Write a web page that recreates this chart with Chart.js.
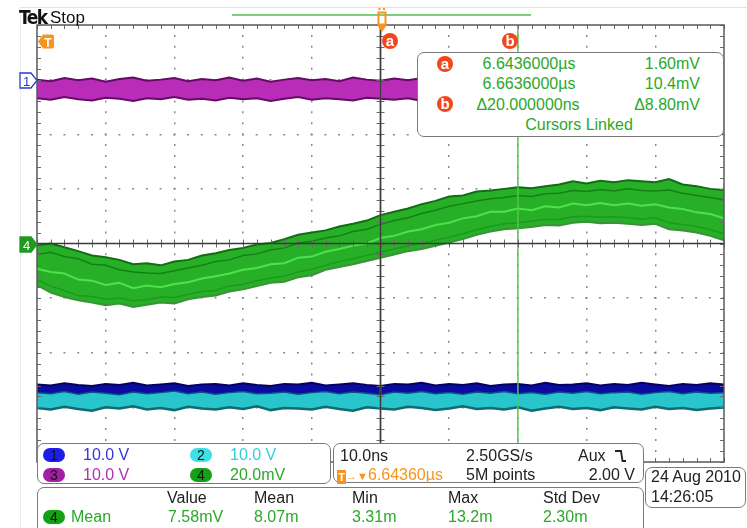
<!DOCTYPE html>
<html>
<head>
<meta charset="utf-8">
<script src="https://cdn.jsdelivr.net/npm/chart.js@4.4.0/dist/chart.umd.min.js"></script>
<style>
  html, body { margin: 0; padding: 0; background: #fff; }
  #scope { position: relative; width: 747px; height: 528px; overflow: hidden;
           font-family: 'Liberation Sans', Arial, sans-serif; font-size: 16px; }
  #scope canvas { position: absolute; left: 0; top: 0; }
  .t    { position: absolute; white-space: nowrap; line-height: 16px; }
  .r    { text-align: right; }
  .c    { text-align: center; }
  .g    { color: #2aa82a; }
  .k    { color: #222; }
  .box  { position: absolute; box-sizing: border-box; border: 1.5px solid #7a7a7a;
          border-radius: 7px; background: #fff; }
  .pill { position: absolute; width: 22px; height: 14px; border-radius: 7px; font-size: 14px;
          line-height: 14px; text-align: center; color: #111; }
  .cur  { position: absolute; width: 16px; height: 16px; border-radius: 50%; background: #f2461c;
          color: #fff; font-size: 15px; font-weight: bold; line-height: 15px; text-align: center; }
  .tb   { display: inline-block; width: 9px; height: 14px; background: #f7941d; color: #fff;
          font-size: 11px; line-height: 14px; text-align: center; font-weight: bold; vertical-align: -1px; }
  .line { position: absolute; }
</style>
</head>
<body>
<div id="scope">
  <canvas id="scr" width="747" height="528"></canvas>

  <!-- frame / header -->
  <div class="line" style="left:20px;top:7px;width:727px;height:1px;background:#e2e2e2"></div>
  <div class="line" style="left:20px;top:7px;width:1px;height:521px;background:#ececec"></div>
  <div class="t" style="left:19px;top:7px;font:bold 19px/20px 'Liberation Sans Narrow','DejaVu Sans Condensed',sans-serif;letter-spacing:-1.5px;color:#111">Tek</div>
  <div class="t" style="left:50px;top:9px;font-size:17px;line-height:17px;color:#111">Stop</div>
  <div class="line" style="left:232px;top:14px;width:299px;height:2px;background:#7ccf7c"></div>

  <!-- trigger position marker -->
  <svg style="position:absolute;left:375px;top:6px" width="14" height="28">
    <circle cx="4.5" cy="3" r="1.2" fill="#f7941d"/><circle cx="9" cy="3" r="1.2" fill="#f7941d"/>
    <rect x="3.5" y="6.5" width="7" height="12" fill="none" stroke="#f7941d" stroke-width="2"/>
    <path d="M2 19 H12 L7 26 Z" fill="#f7941d"/>
  </svg>

  <!-- cursor tags -->
  <div class="cur" style="left:382px;top:33px">a</div>
  <div class="cur" style="left:502px;top:33px">b</div>

  <!-- trigger level -->
  <svg style="position:absolute;left:37px;top:34px" width="18" height="16">
    <path d="M1 7.5 L6 0.5 H15 Q17 0.5 17 2.5 V12.5 Q17 14.5 15 14.5 H6 Z" fill="#f7941d"/>
    <text x="11" y="12.5" text-anchor="middle" font-family="Liberation Sans" font-weight="bold" font-size="12" fill="#fff">T</text>
  </svg>

  <!-- channel ground markers -->
  <svg style="position:absolute;left:19px;top:72px" width="20" height="18">
    <path d="M1 1 H12 L18 8.5 L12 16 H1 Z" fill="#fff" stroke="#2a3ad0" stroke-width="1.3"/>
    <text x="7.5" y="13.5" text-anchor="middle" font-family="Liberation Sans" font-size="13" fill="#2a3ad0">1</text>
  </svg>
  <svg style="position:absolute;left:19px;top:236px" width="20" height="18">
    <path d="M1 1 H12 L18 8.5 L12 16 H1 Z" fill="#1f9a1f" stroke="#1f9a1f" stroke-width="1.3"/>
    <text x="7.5" y="13.5" text-anchor="middle" font-family="Liberation Sans" font-size="13" fill="#fff">4</text>
  </svg>

  <!-- cursor readout -->
  <div class="box" style="left:417px;top:52px;width:307px;height:85px"></div>
  <div class="cur" style="left:437px;top:56px">a</div>
  <div class="cur" style="left:437px;top:96px">b</div>
  <div class="t g c" style="left:429px;top:56px;width:200px">6.6436000µs</div>
  <div class="t g r" style="left:600px;top:56px;width:100px">1.60mV</div>
  <div class="t g c" style="left:429px;top:76px;width:200px">6.6636000µs</div>
  <div class="t g r" style="left:600px;top:76px;width:100px">10.4mV</div>
  <div class="t g c" style="left:428px;top:97px;width:200px">Δ20.000000ns</div>
  <div class="t g r" style="left:600px;top:97px;width:100px">Δ8.80mV</div>
  <div class="t g c" style="left:479px;top:117px;width:200px">Cursors Linked</div>

  <!-- vertical scales -->
  <div class="box" style="left:37px;top:443px;width:294px;height:41px"></div>
  <div class="pill" style="left:43px;top:448px;background:#1d1de6">1</div>
  <div class="t" style="left:83px;top:447px;color:#3535e6">10.0 V</div>
  <div class="pill" style="left:43px;top:468px;background:#a21fa2">3</div>
  <div class="t" style="left:83px;top:467px;color:#b02fb0">10.0 V</div>
  <div class="pill" style="left:190px;top:448px;background:#3fe0e8">2</div>
  <div class="t" style="left:230px;top:447px;color:#2fcfe0">10.0 V</div>
  <div class="pill" style="left:190px;top:468px;background:#14a014">4</div>
  <div class="t g" style="left:230px;top:467px">20.0mV</div>

  <!-- horizontal / trigger -->
  <div class="box" style="left:333px;top:443px;width:311px;height:40px"></div>
  <div class="t k" style="left:340px;top:448px">10.0ns</div>
  <div class="t k" style="left:466px;top:448px">2.50GS/s</div>
  <div class="t k" style="left:578px;top:448px">Aux</div>
  <svg style="position:absolute;left:614px;top:449px" width="14" height="14">
    <path d="M1 2 H7 L8.5 12 H12" fill="none" stroke="#222" stroke-width="1.8"/>
  </svg>
  <div class="t" style="left:337px;top:467px;color:#f7941d"><span class="tb">T</span><span style="font-size:11px">→▼</span>6.64360µs</div>
  <div class="t k" style="left:466px;top:467px">5M points</div>
  <div class="t k r" style="left:535px;top:467px;width:100px">2.00 V</div>

  <!-- date -->
  <div class="box" style="left:645px;top:467px;width:101px;height:41px"></div>
  <div class="t k" style="left:651px;top:469px">24 Aug 2010</div>
  <div class="t k" style="left:651px;top:489px">14:26:05</div>

  <!-- measurements -->
  <div class="box" style="left:37px;top:487px;width:607px;height:50px"></div>
  <div class="t k" style="left:167px;top:490px">Value</div>
  <div class="t k" style="left:254px;top:490px">Mean</div>
  <div class="t k" style="left:352px;top:490px">Min</div>
  <div class="t k" style="left:448px;top:490px">Max</div>
  <div class="t k" style="left:543px;top:490px">Std Dev</div>
  <div class="pill" style="left:43px;top:510px;background:#14a014">4</div>
  <div class="t g" style="left:71px;top:509px">Mean</div>
  <div class="t g" style="left:168px;top:509px">7.58mV</div>
  <div class="t g" style="left:254px;top:509px">8.07m</div>
  <div class="t g" style="left:352px;top:509px">3.31m</div>
  <div class="t g" style="left:448px;top:509px">13.2m</div>
  <div class="t g" style="left:543px;top:509px">2.30m</div>
</div>

<script>
// time in ns relative to the trigger (10 ns/div), amplitudes in graticule divisions
const timeNs = [
  -50, -48, -46, -44, -42, -40, -38, -36, -34, -32,
  -30, -28, -26, -24, -22, -20, -18, -16, -14, -12,
  -10,  -8,  -6,  -4,  -2,   0,   2,   4,   6,   8,
   10,  12,  14,  16,  18,  20,  22,  24,  26,  28,
   30,  32,  34,  36,  38,  40,  42,  44,  46,  48,
   50
];

// magenta band
const magentaTop = [
  3.00, 2.97, 3.03, 2.99, 3.02, 2.96, 3.01, 3.04, 2.98, 3.00,
  3.03, 2.97, 3.01, 2.99, 3.04, 2.98, 3.02, 2.96, 3.00, 3.03,
  2.99, 3.01, 2.97, 3.04, 3.00, 2.98, 3.02, 2.99, 3.03, 2.97,
  3.01, 3.00, 3.04, 2.98, 3.02, 2.99, 3.03, 2.97, 3.00, 3.02,
  2.98, 3.04, 3.00, 2.97, 3.02, 2.99, 3.03, 3.00, 2.98, 3.02,
  2.99
];
const magentaBottom = [
  2.66, 2.63, 2.68, 2.64, 2.62, 2.67, 2.65, 2.61, 2.66, 2.64,
  2.68, 2.63, 2.65, 2.62, 2.67, 2.64, 2.66, 2.61, 2.65, 2.68,
  2.63, 2.66, 2.64, 2.62, 2.67, 2.65, 2.63, 2.66, 2.61, 2.65,
  2.68, 2.64, 2.66, 2.62, 2.65, 2.67, 2.63, 2.66, 2.64, 2.61,
  2.66, 2.64, 2.67, 2.63, 2.65, 2.62, 2.66, 2.64, 2.67, 2.63,
  2.65
];

// channel 4 (green) persistence envelope + a few visible sweeps
const ch4Upper = [
  -0.03,  0.00, -0.07, -0.14, -0.22, -0.25, -0.30, -0.38, -0.36, -0.40,
  -0.33, -0.30, -0.22, -0.18, -0.12, -0.08, -0.02,  0.01,  0.08,  0.16,
   0.20,  0.24,  0.31,  0.36,  0.42,  0.52,  0.58,  0.64,  0.72,  0.78,
   0.86,  0.88,  0.95,  0.97,  1.00,  1.03,  1.01,  1.05,  1.08,  1.14,
   1.10,  1.15,  1.12,  1.16,  1.14,  1.12,  1.18,  1.08,  1.05,  1.00,
   0.98
];
const ch4Lower = [
  -0.76, -0.90, -0.98, -1.04, -1.08, -1.13, -1.10, -1.16, -1.12, -1.08,
  -1.10, -1.02, -0.98, -0.95, -0.88, -0.84, -0.78, -0.72, -0.70, -0.62,
  -0.58, -0.48, -0.43, -0.38, -0.32, -0.26, -0.20, -0.14, -0.10, -0.04,
   0.02,  0.08,  0.16,  0.22,  0.26,  0.28,  0.30,  0.34,  0.33,  0.38,
   0.40,  0.37,  0.38,  0.36,  0.34,  0.36,  0.26,  0.24,  0.20,  0.14,
   0.06
];
const ch4SweepA = [
  -0.46, -0.52, -0.55, -0.66, -0.68, -0.76, -0.72, -0.82, -0.77, -0.80,
  -0.74, -0.71, -0.64, -0.60, -0.55, -0.48, -0.45, -0.38, -0.36, -0.26,
  -0.24, -0.15, -0.10, -0.04,  0.00,  0.10,  0.14,  0.22,  0.26,  0.34,
   0.38,  0.46,  0.50,  0.58,  0.58,  0.64,  0.61,  0.68,  0.66,  0.73,
   0.70,  0.74,  0.70,  0.73,  0.69,  0.72,  0.66,  0.63,  0.57,  0.54,
   0.46
];
const ch4SweepB = [
  -0.20, -0.16, -0.24, -0.28, -0.38, -0.40, -0.48, -0.52, -0.54, -0.55,
  -0.50, -0.45, -0.40, -0.33, -0.30, -0.22, -0.19, -0.12, -0.08,  0.01,
   0.04,  0.10,  0.14,  0.22,  0.26,  0.35,  0.42,  0.47,  0.55,  0.61,
   0.68,  0.73,  0.78,  0.82,  0.84,  0.88,  0.86,  0.91,  0.92,  0.97,
   0.95,  0.99,  0.96,  1.00,  0.97,  0.96,  0.98,  0.92,  0.88,  0.84,
   0.80
];
const ch4SweepC = [
  -0.66, -0.78, -0.86, -0.95, -0.97, -1.02, -1.00, -1.05, -1.03, -0.98,
  -0.99, -0.93, -0.88, -0.86, -0.78, -0.75, -0.68, -0.63, -0.60, -0.52,
  -0.47, -0.40, -0.33, -0.28, -0.22, -0.16, -0.10, -0.04,  0.00,  0.06,
   0.12,  0.18,  0.25,  0.31,  0.36,  0.38,  0.41,  0.44,  0.44,  0.49,
   0.50,  0.48,  0.49,  0.47,  0.45,  0.47,  0.38,  0.35,  0.31,  0.25,
   0.18
];

// blue over cyan bands at the bottom
const blueTop = [
  -2.58, -2.60, -2.56, -2.59, -2.61, -2.57, -2.59, -2.55, -2.60, -2.58,
  -2.56, -2.61, -2.58, -2.57, -2.60, -2.56, -2.59, -2.61, -2.57, -2.58,
  -2.55, -2.60, -2.58, -2.56, -2.59, -2.61, -2.57, -2.58, -2.55, -2.60,
  -2.57, -2.59, -2.56, -2.61, -2.58, -2.57, -2.60, -2.55, -2.59, -2.58,
  -2.56, -2.60, -2.57, -2.59, -2.55, -2.58, -2.61, -2.57, -2.59, -2.56,
  -2.58
];
const blueCyanSplit = [
  -2.73, -2.75, -2.71, -2.76, -2.72, -2.74, -2.77, -2.72, -2.75, -2.73,
  -2.70, -2.75, -2.72, -2.76, -2.73, -2.71, -2.75, -2.74, -2.72, -2.76,
  -2.73, -2.71, -2.75, -2.72, -2.74, -2.77, -2.72, -2.74, -2.71, -2.75,
  -2.73, -2.76, -2.72, -2.74, -2.71, -2.75, -2.73, -2.76, -2.72, -2.74,
  -2.71, -2.75, -2.73, -2.72, -2.76, -2.73, -2.71, -2.75, -2.72, -2.74,
  -2.73
];
const cyanBottom = [
  -3.01, -3.04, -2.99, -3.03, -3.06, -3.00, -3.02, -2.98, -3.04, -3.01,
  -3.05, -2.99, -3.02, -3.04, -3.00, -3.03, -2.98, -3.05, -3.01, -3.02,
  -3.04, -2.99, -3.03, -3.06, -3.00, -3.02, -3.04, -2.99, -3.01, -3.05,
  -3.02, -2.98, -3.03, -3.01, -3.04, -3.00, -3.06, -3.02, -2.99, -3.03,
  -3.01, -3.05, -3.00, -3.02, -3.04, -2.99, -3.03, -3.01, -3.05, -3.02,
  -3.00
];

const cursorA = 0;    // ns
const cursorB = 20;   // ns

const pts = ys => timeNs.map((t, i) => ({ x: t, y: ys[i] }));
const vline = t => [{ x: t, y: -4 }, { x: t, y: 4 }];

const trace = (data, color, width, order, fill, bg) => ({
  data, borderColor: color, borderWidth: width, order,
  fill: fill || false, backgroundColor: bg || 'transparent',
  pointRadius: 0, tension: 0,
});

/* graticule: centre cross, edge ticks, frame */
const graticule = {
  id: 'graticule',
  afterDatasetsDraw(chart) {
    const { ctx, chartArea: a, scales: { x, y } } = chart;
    const x0 = x.getPixelForValue(0), y0 = y.getPixelForValue(0);
    ctx.save();
    ctx.strokeStyle = '#6a6a6a'; ctx.lineWidth = 1;
    ctx.beginPath();
    for (let t = -50; t <= 50; t += 2) {
      const p = Math.round(x.getPixelForValue(t)) + 0.5;
      ctx.moveTo(p, y0 - 4); ctx.lineTo(p, y0 + 4);
      ctx.moveTo(p, a.top);  ctx.lineTo(p, a.top + 4);
      ctx.moveTo(p, a.bottom); ctx.lineTo(p, a.bottom - 4);
    }
    for (let k = -20; k <= 20; k++) {
      const p = Math.round(y.getPixelForValue(k / 5)) + 0.5;
      ctx.moveTo(x0 - 4, p); ctx.lineTo(x0 + 4, p);
      ctx.moveTo(a.left, p); ctx.lineTo(a.left + 4, p);
      ctx.moveTo(a.right, p); ctx.lineTo(a.right - 4, p);
    }
    ctx.stroke();
    ctx.strokeStyle = '#3a3a3a'; ctx.lineWidth = 1.5;
    ctx.beginPath();
    ctx.moveTo(a.left, y0); ctx.lineTo(a.right, y0);
    ctx.moveTo(x0, a.top); ctx.lineTo(x0, a.bottom);
    ctx.stroke();
    ctx.strokeStyle = '#5a5a5a'; ctx.lineWidth = 1.5;
    ctx.strokeRect(a.left, a.top, a.width, a.height);
    ctx.restore();
  }
};

const hideEdge = lim => c => (c.tick.value === 0 || Math.abs(c.tick.value) === lim) ? 'rgba(0,0,0,0)' : '#8a8a8a';

new Chart(document.getElementById('scr'), {
  type: 'line',
  data: {
    datasets: [
      trace(vline(cursorA), '#55c455', 1.5, 0),
      trace(vline(cursorB), '#55c455', 1.5, 0),
      trace(pts(magentaBottom), '#640c64', 2, 5),
      trace(pts(magentaTop), '#640c64', 2, 5, '-1', '#b82cb8'),
      trace(pts(ch4Lower), '#3c913c', 2, 4),
      trace(pts(ch4Upper), '#0f6e0f', 2, 4, '-1', '#27b027'),
      trace(pts(ch4SweepB), '#128212', 1.5, 3),
      trace(pts(ch4SweepA), '#4de24d', 2, 3),
      trace(pts(ch4SweepC), '#1b9a1b', 1.5, 3),
      trace(pts(cyanBottom), '#106a70', 2.5, 2),
      trace(pts(blueCyanSplit), '#0a4f86', 1.5, 2, '-1', '#28c6cc'),
      trace(pts(blueTop), '#03035f', 2, 2, '-1', '#0b0ba0'),
    ],
  },
  options: {
    responsive: false, animation: false, devicePixelRatio: 1,
    layout: { padding: { left: 37, top: 25, right: 23, bottom: 66 } },
    plugins: { legend: { display: false }, tooltip: { enabled: false } },
    scales: {
      x: {
        type: 'linear', min: -50, max: 50,
        ticks: { display: false, stepSize: 10 },
        grid: { drawTicks: false, color: hideEdge(50), lineWidth: 1.5 },
        border: { display: false, dash: [2, 8.92], dashOffset: 1 },
      },
      y: {
        min: -4, max: 4,
        ticks: { display: false, stepSize: 1 },
        grid: { drawTicks: false, color: hideEdge(4), lineWidth: 1.5 },
        border: { display: false, dash: [2, 11.73], dashOffset: 1 },
      },
    },
  },
  plugins: [graticule],
});
</script>
</body>
</html>
